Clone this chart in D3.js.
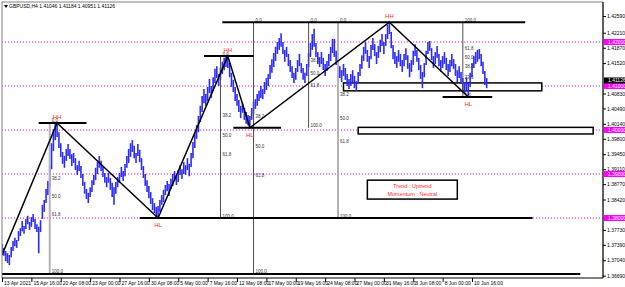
<!DOCTYPE html>
<html>
<head>
<meta charset="utf-8">
<script src="https://cdn.jsdelivr.net/npm/d3@7"></script>
<style>
html, body { margin: 0; padding: 0; background: #fff; }
svg { display: block; font-family: "Liberation Sans", Arial, sans-serif; }
</style>
</head>
<body>
<svg id="chart" width="625" height="287"></svg>
<script>
// GBPUSD H4 bars, high / low
const highs = [
  1.3741,1.3732,1.3725,1.3720,1.3716,1.3734,1.3748,1.3755,1.3750,1.3770,
  1.3777,1.3793,1.3782,1.3798,1.3805,1.3791,1.3802,1.3809,1.3798,1.3786,
  1.3780,1.3795,1.3830,1.3841,1.3866,1.3884,1.3920,1.3970,1.4002,1.4014,
  1.4016,1.3995,1.3970,1.3950,1.3941,1.3957,1.3968,1.3957,1.3945,1.3948,
  1.3936,1.3920,1.3930,1.3918,1.3900,1.3882,1.3866,1.3857,1.3870,1.3886,
  1.3898,1.3914,1.3927,1.3941,1.3930,1.3916,1.3902,1.3893,1.3902,1.3891,
  1.3880,1.3870,1.3882,1.3893,1.3902,1.3916,1.3907,1.3923,1.3941,1.3957,
  1.3970,1.3977,1.3964,1.3948,1.3968,1.3955,1.3936,1.3918,1.3900,1.3886,
  1.3873,1.3859,1.3845,1.3834,1.3825,1.3827,1.3841,1.3852,1.3864,1.3875,
  1.3884,1.3877,1.3889,1.3900,1.3907,1.3898,1.3909,1.3920,1.3911,1.3927,
  1.3920,1.3936,1.3923,1.3948,1.3973,1.3995,1.4011,1.4032,1.4055,1.4077,
  1.4093,1.4082,1.4098,1.4116,1.4100,1.4120,1.4139,1.4145,1.4127,1.4141,
  1.4155,1.4164,1.4166,1.4168,1.4152,1.4130,1.4114,1.4098,1.4082,1.4068,
  1.4055,1.4061,1.4050,1.4041,1.4034,1.4032,1.4050,1.4064,1.4070,1.4082,
  1.4089,1.4100,1.4093,1.4109,1.4118,1.4127,1.4148,1.4161,1.4175,1.4189,
  1.4200,1.4209,1.4220,1.4200,1.4182,1.4189,1.4173,1.4159,1.4145,1.4130,
  1.4141,1.4159,1.4173,1.4152,1.4141,1.4130,1.4150,1.4175,1.4198,1.4218,
  1.4230,1.4198,1.4177,1.4166,1.4177,1.4164,1.4150,1.4157,1.4173,1.4189,
  1.4207,1.4207,1.4180,1.4159,1.4145,1.4136,1.4150,1.4141,1.4127,1.4116,
  1.4127,1.4136,1.4123,1.4111,1.4132,1.4150,1.4170,1.4189,1.4200,1.4182,
  1.4168,1.4193,1.4209,1.4195,1.4177,1.4191,1.4205,1.4218,1.4200,1.4218,
  1.4239,1.4245,1.4223,1.4193,1.4177,1.4168,1.4182,1.4173,1.4159,1.4173,
  1.4186,1.4170,1.4152,1.4159,1.4180,1.4195,1.4182,1.4164,1.4148,1.4132,
  1.4152,1.4180,1.4200,1.4202,1.4186,1.4168,1.4177,1.4191,1.4173,1.4159,
  1.4168,1.4177,1.4164,1.4150,1.4159,1.4173,1.4161,1.4150,1.4136,1.4145,
  1.4132,1.4118,1.4109,1.4120,1.4107,1.4130,1.4152,1.4168,1.4177,1.4182,
  1.4184,1.4173,1.4155,1.4134,1.41184
];
const lows = [
  1.3723,1.3714,1.3702,1.3698,1.3693,1.3711,1.3725,1.3736,1.3732,1.3748,
  1.3759,1.3770,1.3764,1.3775,1.3786,1.3773,1.3780,1.3791,1.3775,1.3768,
  1.3720,1.3768,1.3798,1.3814,1.3834,1.3852,1.3870,1.3911,1.3952,1.3977,
  1.3984,1.3959,1.3939,1.3923,1.3914,1.3930,1.3941,1.3934,1.3918,1.3925,
  1.3909,1.3898,1.3907,1.3891,1.3873,1.3855,1.3843,1.3834,1.3848,1.3859,
  1.3875,1.3886,1.3900,1.3914,1.3907,1.3893,1.3880,1.3870,1.3880,1.3864,
  1.3848,1.3830,1.3855,1.3870,1.3880,1.3893,1.3884,1.3895,1.3914,1.3925,
  1.3939,1.3950,1.3936,1.3925,1.3941,1.3927,1.3909,1.3891,1.3873,1.3859,
  1.3845,1.3832,1.3818,1.3811,1.3802,1.3800,1.3814,1.3830,1.3836,1.3852,
  1.3861,1.3850,1.3866,1.3873,1.3884,1.3875,1.3882,1.3898,1.3889,1.3900,
  1.3898,1.3909,1.3895,1.3916,1.3936,1.3959,1.3980,1.3995,1.4018,1.4041,
  1.4061,1.4055,1.4066,1.4084,1.4073,1.4089,1.4107,1.4118,1.4100,1.4114,
  1.4127,1.4136,1.4143,1.4141,1.4120,1.4098,1.4086,1.4066,1.4055,1.4041,
  1.4027,1.4039,1.4023,1.4014,1.4011,1.4005,1.4023,1.4036,1.4048,1.4055,
  1.4066,1.4073,1.4070,1.4082,1.4091,1.4100,1.4116,1.4130,1.4143,1.4157,
  1.4173,1.4182,1.4189,1.4173,1.4155,1.4166,1.4145,1.4132,1.4118,1.4107,
  1.4114,1.4132,1.4145,1.4130,1.4114,1.4107,1.4123,1.4143,1.4166,1.4182,
  1.4189,1.4166,1.4150,1.4143,1.4150,1.4136,1.4123,1.4134,1.4145,1.4157,
  1.4175,1.4166,1.4148,1.4132,1.4118,1.4109,1.4123,1.4114,1.4100,1.4093,
  1.4100,1.4109,1.4095,1.4089,1.4105,1.4123,1.4139,1.4157,1.4173,1.4155,
  1.4141,1.4161,1.4182,1.4168,1.4150,1.4164,1.4177,1.4191,1.4173,1.4191,
  1.4207,1.4218,1.4186,1.4161,1.4150,1.4141,1.4155,1.4145,1.4132,1.4145,
  1.4159,1.4139,1.4120,1.4132,1.4148,1.4168,1.4155,1.4136,1.4116,1.4095,
  1.4120,1.4148,1.4173,1.4180,1.4159,1.4141,1.4150,1.4164,1.4145,1.4132,
  1.4141,1.4150,1.4136,1.4123,1.4132,1.4145,1.4139,1.4123,1.4109,1.4118,
  1.4105,1.4091,1.4082,1.4089,1.4075,1.4098,1.4120,1.4141,1.4150,1.4155,
  1.4161,1.4145,1.4127,1.4102,1.40951
];

// time axis: one label every 16 bars
const dateLabels = ['13 Apr 2021','15 Apr 16:00','20 Apr 08:00','23 Apr 00:00','27 Apr 16:00',
  '30 Apr 08:00','5 May 00:00','7 May 16:00','12 May 08:00','17 May 00:00','19 May 16:00',
  '24 May 08:00','27 May 00:00','31 May 16:00','3 Jun 08:00','8 Jun 00:00','10 Jun 16:00'];
const priceTicks = [1.42590,1.42210,1.41870,1.41520,1.40830,1.40490,1.40140,1.39800,
  1.39450,1.39110,1.38770,1.38420,1.37730,1.37390,1.37040,1.36690];
const roundLevels = [1.42, 1.41, 1.40, 1.39, 1.38];
const lastPrice = 1.41126;
const header = 'GBPUSD,H4  1.41046 1.41184 1.40951 1.41126';

// swing points [bar, price]
const zigzag = [[0,1.3716],[30,1.4016],[85,1.3800],[123,1.4168],[135,1.4005],[211,1.4245],[254,1.4075]];
const swingTags = [['HH',30,1.4016],['HL',85,1.3800],['HH',123,1.4168],['HL',135,1.4005],['HH',211,1.4245],['HL',254,1.4075]];
// horizontal swing lines [fromBar, toBar, price]
const swingLines = [[20,46,1.4016],[110,137,1.4168],[126,152,1.4005],[75,289,1.3800],
  [120,285,1.4245],[240,267,1.4075],[-2,315,1.3673]];
// fibonacci verticals [bar, price at 0, price at 100, levels, light]
const fibs = [
  [26, 1.4016, 1.3673, [0,38.2,50,61.8,100], true],
  [119, 1.4168, 1.3800, [0,38.2,50,61.8,100], false],
  [137, 1.4245, 1.3673, [0,38.2,50,61.8,100], false],
  [167, 1.4245, 1.4005, [0,38.2,50,61.8,100], false],
  [183, 1.4245, 1.3800, [0,38.2,50,61.8,100], true],
  [251, 1.4075, 1.4245, [0,23.6,38.2,50,61.8,100], false]
];
// zones [fromBar, toBar, top, bottom]
const zones = [[186,294,1.4107,1.4089],[194,322,1.4006,1.3991]];
const infoBox = [199, 248, 1.3886, 1.3843];
const infoText = ['Trend : Uptrend', 'Momentum : Neutral'];

const W = 625, H = 287;
const plot = {left: 2, top: 2, right: 603, bottom: 278};
const x = d3.scaleLinear().domain([0, 256]).range([2, 472]);
const y = d3.scaleLinear().domain([1.38, 1.42]).range([218, 42]);

const svg = d3.select('#chart');
svg.append('rect').attr('width', W).attr('height', H).attr('fill', '#fff');

svg.append('clipPath').attr('id', 'clip').append('rect')
  .attr('x', plot.left).attr('y', plot.top)
  .attr('width', plot.right - plot.left).attr('height', plot.bottom - plot.top);
const g = svg.append('g').attr('clip-path', 'url(#clip)');

// round number levels
g.selectAll('.lvl').data(roundLevels).join('line')
  .attr('x1', plot.left).attr('x2', plot.right)
  .attr('y1', d => y(d)).attr('y2', d => y(d))
  .attr('stroke', '#ff00ff').attr('stroke-width', 1).attr('stroke-dasharray', '1,2');

// zones
g.selectAll('.zone').data(zones).join('rect')
  .attr('x', d => x(d[0])).attr('y', d => y(d[2]))
  .attr('width', d => x(d[1]) - x(d[0])).attr('height', d => y(d[3]) - y(d[2]))
  .attr('fill', '#fff').attr('stroke', '#000').attr('stroke-width', 1.5);

// price bars
g.selectAll('.bar').data(highs).join('line')
  .attr('x1', (d, i) => x(i)).attr('x2', (d, i) => x(i))
  .attr('y1', d => y(d)).attr('y2', (d, i) => y(lows[i]))
  .attr('stroke', '#2a2aff').attr('stroke-width', 1.6);

// fib verticals + labels
fibs.forEach(f => {
  const [bar, p0, p100, levels, light] = f;
  g.append('line')
    .attr('x1', x(bar)).attr('x2', x(bar))
    .attr('y1', y(p0)).attr('y2', y(p100))
    .attr('stroke', light ? '#b4b4b4' : '#505050')
    .attr('stroke-width', light ? 2 : 1);
  levels.forEach(l => {
    g.append('text')
      .attr('x', x(bar) + 2)
      .attr('y', y(p0 + (p100 - p0) * l / 100) - 0.5)
      .attr('font-size', 4.5).attr('fill', '#333')
      .text(l.toFixed(1));
  });
});

// swing lines
g.selectAll('.sw').data(swingLines).join('line')
  .attr('x1', d => x(d[0])).attr('x2', d => x(d[1]))
  .attr('y1', d => y(d[2])).attr('y2', d => y(d[2]))
  .attr('stroke', '#000').attr('stroke-width', 2);

// zigzag
g.append('path')
  .attr('d', d3.line().x(d => x(d[0])).y(d => y(d[1]))(zigzag))
  .attr('fill', 'none').attr('stroke', '#000').attr('stroke-width', 1.5);

g.selectAll('.tag').data(swingTags).join('text')
  .attr('x', d => x(d[1]))
  .attr('y', d => d[0] === 'HH' ? y(d[2]) - 4 : y(d[2]) + 9)
  .attr('text-anchor', 'middle').attr('font-size', 6).attr('fill', '#ff2a2a')
  .text(d => d[0]);

// info box
g.append('rect')
  .attr('x', x(infoBox[0])).attr('y', y(infoBox[2]))
  .attr('width', x(infoBox[1]) - x(infoBox[0])).attr('height', y(infoBox[3]) - y(infoBox[2]))
  .attr('fill', '#fff').attr('stroke', '#000').attr('stroke-width', 1.5);
infoText.forEach((t, i) => {
  g.append('text')
    .attr('x', (x(infoBox[0]) + x(infoBox[1])) / 2)
    .attr('y', y(infoBox[2]) + 8 + i * 7.5)
    .attr('text-anchor', 'middle').attr('font-size', 5.5).attr('fill', '#ff2a2a')
    .text(t);
});

// frame
svg.append('path')
  .attr('d', `M${plot.right},${plot.bottom}V${plot.top}H${plot.left}V${plot.bottom}`)
  .attr('fill', 'none').attr('stroke', '#808080').attr('stroke-width', 1);
svg.append('line').attr('x1', plot.right).attr('x2', plot.right)
  .attr('y1', plot.top).attr('y2', plot.bottom).attr('stroke', '#000');
svg.append('line').attr('x1', plot.left).attr('x2', plot.right)
  .attr('y1', plot.bottom).attr('y2', plot.bottom).attr('stroke', '#000');

// right price axis
const yAxis = svg.append('g').attr('transform', `translate(${plot.right},0)`)
  .call(d3.axisRight(y).tickValues(priceTicks).tickSize(3).tickFormat(d3.format('.5f')));
yAxis.select('.domain').remove();
yAxis.selectAll('text').attr('font-size', 5).attr('x', 4).attr('font-family', '"Liberation Sans", Arial');

const tagsR = roundLevels.map(v => ({v, bg: '#ff00ff'})).concat([{v: lastPrice, bg: '#000'}]);
const rt = svg.selectAll('.rtag').data(tagsR).join('g')
  .attr('transform', d => `translate(${plot.right + 1},${y(d.v)})`);
rt.append('rect').attr('x', 0).attr('y', -3).attr('width', 21).attr('height', 6).attr('fill', d => d.bg);
rt.append('text').attr('x', 4).attr('dy', '0.35em').attr('font-size', 5).attr('fill', '#fff')
  .text(d => d3.format('.5f')(d.v));

// bottom time axis
const xAxis = svg.append('g').attr('transform', `translate(0,${plot.bottom})`)
  .call(d3.axisBottom(x).tickValues(dateLabels.map((d, i) => i * 16)).tickSize(4)
    .tickFormat((d, i) => dateLabels[i]));
xAxis.select('.domain').remove();
xAxis.selectAll('text').attr('font-size', 5).attr('text-anchor', 'start')
  .attr('x', 1.5).attr('y', 3.5).attr('font-family', '"Liberation Sans", Arial');

// header
svg.append('path').attr('d', 'M4,5L8,5L6,8Z').attr('fill', '#000');
svg.append('text').attr('x', 9).attr('y', 8).attr('font-size', 5).attr('fill', '#000').text(header);
</script>
</body>
</html>
